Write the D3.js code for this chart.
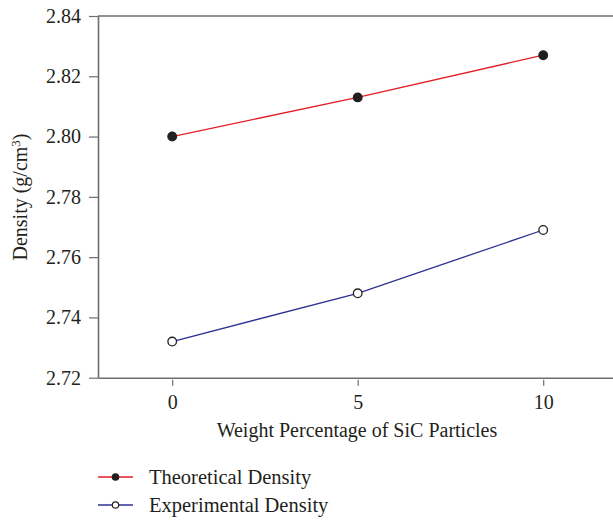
<!DOCTYPE html>
<html><head><meta charset="utf-8">
<script src="https://cdn.jsdelivr.net/npm/d3@7"></script>
<style>body{margin:0;background:#fff}svg{display:block}text{font-family:"Liberation Serif","DejaVu Serif",serif;fill:#231f20}</style>
</head><body><svg id="c" width="613" height="520"></svg>
<script>
const xValues = [0, 5, 10];
const theoretical = [2.800, 2.813, 2.827];
const experimental = [2.732, 2.748, 2.769];
const yTicks = [2.72, 2.74, 2.76, 2.78, 2.80, 2.82, 2.84];
const xTicks = [0, 5, 10];
const seriesNames = ["Theoretical Density", "Experimental Density"];

const svg = d3.select("#c");
const x = d3.scaleLinear().domain([-2, 12]).range([98, 617.4]);
const y = d3.scaleLinear().domain([2.72, 2.84]).range([377.7, 16]);
const axisColor = "#6d6e71";

// top border
svg.append("line").attr("x1", x(-2)).attr("x2", 613).attr("y1", y(2.84)).attr("y2", y(2.84))
  .attr("stroke", axisColor).attr("stroke-width", 1.6);

// y axis
const ya = svg.append("g").attr("transform", `translate(${x(-2)},0)`)
  .call(d3.axisLeft(y).tickValues(yTicks).tickFormat(d3.format(".2f")).tickSize(9).tickSizeOuter(0));
ya.select(".domain").attr("stroke", axisColor).attr("stroke-width", 1.6);
ya.selectAll(".tick line").attr("stroke", axisColor).attr("stroke-width", 1.2);
ya.selectAll(".tick text").attr("x", -17).style("font-size", "20px").attr("fill", "#231f20");

// x axis
const xa = svg.append("g").attr("transform", `translate(0,${y(2.72)})`)
  .call(d3.axisBottom(x).tickValues(xTicks).tickSize(0).tickSizeOuter(0));
xa.select(".domain").attr("stroke", axisColor).attr("stroke-width", 1.6);
xa.selectAll(".tick").append("line").attr("y1", 2).attr("y2", 8).attr("stroke", axisColor).attr("stroke-width", 1.2);
xa.selectAll(".tick text").attr("y", 31).attr("dy", 0).style("font-size", "20px").attr("fill", "#231f20");

// axis titles
svg.append("text").attr("x", 357).attr("y", 437).attr("text-anchor", "middle").style("font-size", "20px")
  .text("Weight Percentage of SiC Particles");
const yt = svg.append("text").attr("transform", "translate(27,197) rotate(-90)").attr("text-anchor", "middle").style("font-size", "20px");
yt.append("tspan").text("Density (g/cm");
yt.append("tspan").attr("dy", -7).style("font-size", "13px").text("3");
yt.append("tspan").attr("dy", 7).text(")");

const colors = ["#e31e24", "#2e3192"];
const series = [theoretical, experimental];
const line = d3.line().x((d, i) => x(xValues[i])).y(d => y(d));
series.forEach((s, k) => {
  svg.append("path").datum(s).attr("d", line).attr("fill", "none").attr("stroke", colors[k]).attr("stroke-width", 1.3);
  svg.selectAll(null).data(s).enter().append("circle")
    .attr("cx", (d, i) => x(xValues[i])).attr("cy", d => y(d)).attr("r", 4.3)
    .attr("fill", k === 0 ? "#231f20" : "#fff").attr("stroke", "#231f20").attr("stroke-width", 1.3);
});

// legend
const ly = [477, 505];
seriesNames.forEach((n, k) => {
  svg.append("line").attr("x1", 98).attr("x2", 133).attr("y1", ly[k]).attr("y2", ly[k]).attr("stroke", colors[k]).attr("stroke-width", 1.3);
  svg.append("circle").attr("cx", 115.5).attr("cy", ly[k]).attr("r", 3.2)
    .attr("fill", k === 0 ? "#231f20" : "#fff").attr("stroke", "#231f20").attr("stroke-width", 1.2);
  svg.append("text").attr("x", 149).attr("y", ly[k] + 7).style("font-size", "20.5px").text(n);
});
</script></body></html>
